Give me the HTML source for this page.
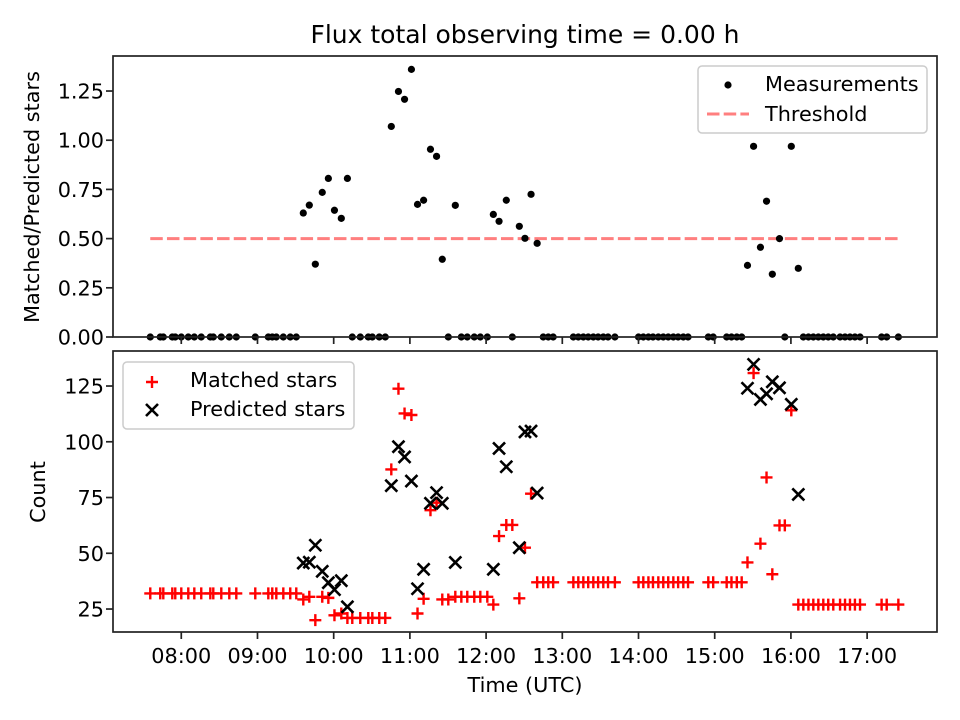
<!DOCTYPE html>
<html><head><meta charset="utf-8"><style>
html,body{margin:0;padding:0;background:#fff;}
svg{display:block;font-family:"DejaVu Sans","Liberation Sans",sans-serif;}
</style></head><body>
<svg id="chart" width="960" height="720" viewBox="0 0 960 720" xmlns="http://www.w3.org/2000/svg">
<rect width="960" height="720" fill="#fff"/>
<text x="525" y="43" text-anchor="middle" font-size="25">Flux total observing time = 0.00 h</text>
<text x="525" y="692" text-anchor="middle" font-size="20.8">Time (UTC)</text>
<text transform="translate(39,197) rotate(-90)" text-anchor="middle" font-size="20.8">Matched/Predicted stars</text>
<text transform="translate(45,492) rotate(-90)" text-anchor="middle" font-size="20.8">Count</text>
<g id="topPanel"></g>
<g id="botPanel"></g>
</svg>
<script>
const times = [7.593,7.724,7.764,7.882,7.921,8.0,8.092,8.171,8.262,8.381,8.42,8.525,8.63,8.722,8.971,9.142,9.194,9.247,9.339,9.43,9.509,
9.601,9.68,9.759,9.85,9.93,10.01,10.10,10.18,
10.244,10.349,10.454,10.507,10.598,10.677,
10.756,10.85,10.93,11.02,11.10,11.18,11.27,11.35,11.425,
11.504,11.596,11.675,11.753,11.845,11.924,12.016,
12.095,12.17,12.265,12.344,12.436,12.51,12.59,12.67,
12.75,12.816,12.88,13.145,13.21,13.276,13.34,13.407,13.47,13.538,13.60,13.69,
14.0,14.063,14.13,14.19,14.26,14.325,14.39,14.457,14.52,14.588,14.65,
14.916,14.98,15.157,15.22,15.29,15.354,
15.43,15.51,15.60,15.68,15.756,15.85,15.92,16.005,16.097,
16.163,16.23,16.294,16.36,16.425,16.49,16.556,16.645,16.71,16.775,16.84,16.907,
17.19,17.257,17.41];
const ratio = [0,0,0,0,0,0,0,0,0,0,0,0,0,0,0,0,0,0,0,0,0,
0.63,0.67,0.37,0.735,0.806,0.644,0.603,0.806,
0,0,0,0,0,0,
1.07,1.248,1.208,1.36,0.674,0.695,0.954,0.918,0.395,
0,0.669,0,0,0,0,0,
0.623,0.588,0.695,0,0.5625,0.5015,0.725,0.476,
0,0,0,0,0,0,0,0,0,0,0,0,
0,0,0,0,0,0,0,0,0,0,0,
0,0,0,0,0,0,
0.364,0.969,0.456,0.69,0.319,0.50,0,0.969,0.349,
0,0,0,0,0,0,0,0,0,0,0,0,
0,0,0];
const matched = [32,32,32,32,32,32,32,32,32,32,32,32,32,32,32,32,32,32,32,32,32,
29.3,30.5,20,30.5,30,22.2,23,21,
21,21,21,21,21,21,
87.6,123.8,112.7,112,23,29.6,69.3,72.7,29.3,
29.3,30.5,30.5,30.5,30.5,30.5,30.5,
27,57.7,62.7,62.7,29.8,52.5,76.7,37,
37,37,37,37,37,37,37,37,37,37,37,37,
37,37,37,37,37,37,37,37,37,37,37,
37,37,37,37,37,37,
45.9,130.8,54.3,84,40.6,62.5,62.5,114.1,27,
27,27,27,27,27,27,27,27,27,27,27,27,
27,27,27];
const predicted = [null,null,null,null,null,null,null,null,null,null,null,null,null,null,null,null,null,null,null,null,null,
45.6,46,53.6,41.9,36.8,33.7,37.7,26,
null,null,null,null,null,null,
80.3,97.8,93.2,82.4,34.1,42.8,72.4,77.2,72.4,
null,45.9,null,null,null,null,null,
42.8,97,88.8,null,52.5,104.4,104.8,77,
null,null,null,null,null,null,null,null,null,null,null,null,
null,null,null,null,null,null,null,null,null,null,null,
null,null,null,null,null,null,
124,134.7,119,121.5,126.9,124.2,null,116.8,76.4,
null,null,null,null,null,null,null,null,null,null,null,null,
null,null,null];
const threshold = 0.5;
const xTickHours = [8,9,10,11,12,13,14,15,16,17];
const xTickLabels = ["08:00","09:00","10:00","11:00","12:00","13:00","14:00","15:00","16:00","17:00"];
const topTicks = [0,0.25,0.5,0.75,1.0,1.25];
const topTickLabels = ["0.00","0.25","0.50","0.75","1.00","1.25"];
const botTicks = [25,50,75,100,125];
const botTickLabels = ["25","50","75","100","125"];

const NS="http://www.w3.org/2000/svg";
const L=113,R=937,T1=56,B1=337,T2=351,B2=632;
const xMin=7.104,xMax=17.917;
const topMin=0,topMax=1.428,botMin=14.7,botMax=140.7;
function X(h){return L+(h-xMin)/(xMax-xMin)*(R-L);}
function Y1(v){return B1-(v-topMin)/(topMax-topMin)*(B1-T1);}
function Y2(v){return B2-(v-botMin)/(botMax-botMin)*(B2-T2);}
function mk(tag,attrs,parent,txt){const e=document.createElementNS(NS,tag);for(const k in attrs)e.setAttribute(k,attrs[k]);if(txt!==undefined)e.textContent=txt;parent.appendChild(e);return e;}
const topG=document.getElementById('topPanel'),botG=document.getElementById('botPanel');

function plus(g,x,y,name){const p=mk('path',{d:`M${x-6},${y}H${x+6}M${x},${y-6}V${y+6}`,stroke:'#ff0000','stroke-width':2.4,fill:'none'},g);

return p;}
function cross(g,x,y,name){const p=mk('path',{d:`M${x-6},${y-6}L${x+6},${y+6}M${x-6},${y+6}L${x+6},${y-6}`,stroke:'#000','stroke-width':2.6,fill:'none'},g);

return p;}

const tl=mk('line',{x1:X(Math.min(...times)),x2:X(Math.max(...times)),y1:Y1(threshold),y2:Y1(threshold),stroke:'#ff7f7f','stroke-width':3,'stroke-dasharray':'12.5 4.2'},topG);


times.forEach((t,i)=>{const c=mk('circle',{cx:X(t),cy:Y1(ratio[i]),r:3.6,fill:'#000'},topG);

});
times.forEach((t,i)=>{plus(botG,X(t),Y2(matched[i]),'matched-star-point');});
times.forEach((t,i)=>{if(predicted[i]!==null)cross(botG,X(t),Y2(predicted[i]),'predicted-star-point');});

function frame(g,T,B,name){const r=mk('rect',{x:L,y:T,width:R-L,height:B-T,fill:'none',stroke:'#222','stroke-width':1.7},g);

}
frame(topG,T1,B1,'top-axes-frame');frame(botG,T2,B2,'bottom-axes-frame');
xTickHours.forEach((h,i)=>{
  const a=mk('line',{x1:X(h),x2:X(h),y1:B1,y2:B1+7,stroke:'#222','stroke-width':1.7},topG);
  
  
  const b=mk('line',{x1:X(h),x2:X(h),y1:B2,y2:B2+7,stroke:'#222','stroke-width':1.7},botG);
  
  
  const t=mk('text',{x:X(h),y:663,'text-anchor':'middle','font-size':20.8},botG,xTickLabels[i]);
  
  
});
topTicks.forEach((v,i)=>{
  const a=mk('line',{x1:L-7,x2:L,y1:Y1(v),y2:Y1(v),stroke:'#222','stroke-width':1.7},topG);
  
  
  const t=mk('text',{x:104,y:Y1(v)+7.5,'text-anchor':'end','font-size':20.8},topG,topTickLabels[i]);
  
  
});
botTicks.forEach((v,i)=>{
  const a=mk('line',{x1:L-7,x2:L,y1:Y2(v),y2:Y2(v),stroke:'#222','stroke-width':1.7},botG);
  
  
  const t=mk('text',{x:104,y:Y2(v)+7.5,'text-anchor':'end','font-size':20.8},botG,botTickLabels[i]);
  
  
});

const lg1=mk('g',{},topG);


mk('rect',{x:698,y:66,width:229,height:67,rx:4,fill:'#fff','fill-opacity':0.8,stroke:'#ccc','stroke-width':1.5},lg1);
mk('circle',{cx:728,cy:85,r:3.6,fill:'#000'},lg1);
const le1=mk('text',{x:765,y:91,'font-size':20.8},lg1,'Measurements');


mk('line',{x1:707,x2:749,y1:114,y2:114,stroke:'#ff7f7f','stroke-width':3,'stroke-dasharray':'12.5 4.2'},lg1);
const le2=mk('text',{x:765,y:121,'font-size':20.8},lg1,'Threshold');



const lg2=mk('g',{},botG);


mk('rect',{x:123,y:362,width:231,height:67,rx:4,fill:'#fff','fill-opacity':0.8,stroke:'#ccc','stroke-width':1.5},lg2);
plus(lg2,152,382,'legend-marker-matched');
const le3=mk('text',{x:190,y:387,'font-size':20.8},lg2,'Matched stars');


cross(lg2,152,410,'legend-marker-predicted');
const le4=mk('text',{x:190,y:416,'font-size':20.8},lg2,'Predicted stars');


</script>
</body></html>
